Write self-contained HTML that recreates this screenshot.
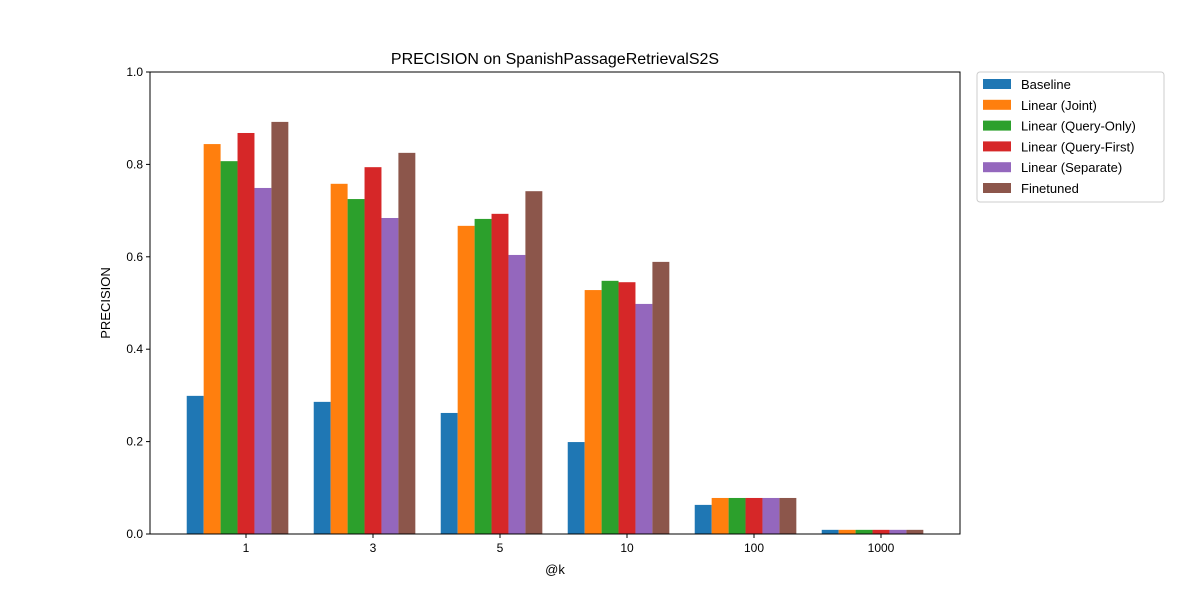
<!DOCTYPE html>
<html><head><meta charset="utf-8"><style>body{margin:0;background:#fff}svg{font-family:"Liberation Sans","DejaVu Sans",sans-serif}</style></head>
<body>
<svg id="chart" width="1200" height="600"></svg>
<script>
const categories=["1","3","5","10","100","1000"];
const seriesNames=["Baseline","Linear (Joint)","Linear (Query-Only)","Linear (Query-First)","Linear (Separate)","Finetuned"];
const baseline=[0.299,0.286,0.262,0.199,0.063,0.009];
const joint=[0.844,0.758,0.667,0.528,0.078,0.009];
const queryOnly=[0.807,0.725,0.682,0.548,0.078,0.009];
const queryFirst=[0.868,0.794,0.693,0.545,0.078,0.009];
const separate=[0.749,0.684,0.604,0.498,0.078,0.009];
const finetuned=[0.892,0.825,0.742,0.589,0.078,0.009];
const yTicks=[0,0.2,0.4,0.6,0.8,1.0];
const series=[baseline,joint,queryOnly,queryFirst,separate,finetuned];
const colors=["#1f77b4","#ff7f0e","#2ca02c","#d62728","#9467bd","#8c564b"];
const NS="http://www.w3.org/2000/svg";
const svg=document.getElementById('chart');
const L=150,R=960,T=72,B=534;
const y=v=>B-v*(B-T);
const step=127, x0=246;
const xc=i=>x0+i*step;
const bw=step*0.8/6;
function mk(t,a,p){const e=document.createElementNS(NS,t);for(const k in a)e.setAttribute(k,a[k]);(p||svg).appendChild(e);return e;}
series.forEach((s,si)=>{s.forEach((v,ci)=>{
 const r=mk('rect',{x:xc(ci)-3.5*bw+si*bw,y:y(v),width:bw,height:B-y(v),fill:colors[si]});
 
 
});});
const frame=mk('rect',{x:L,y:T,width:R-L,height:B-T,fill:'none',stroke:'#000','stroke-width':1});


yTicks.forEach(v=>{
 mk('line',{x1:L-4,x2:L,y1:y(v),y2:y(v),stroke:'#000'});
 const t=mk('text',{x:L-7,y:y(v)+4,'text-anchor':'end','font-size':12});t.textContent=v.toFixed(1);
 
 
});
categories.forEach((c,i)=>{
 mk('line',{x1:xc(i),x2:xc(i),y1:B,y2:B+4,stroke:'#000'});
 const t=mk('text',{x:xc(i),y:B+18,'text-anchor':'middle','font-size':12});t.textContent=c;
 
 
});
let t=mk('text',{x:555,y:64,'text-anchor':'middle','font-size':16});t.textContent="PRECISION on SpanishPassageRetrievalS2S";


t=mk('text',{x:555,y:574,'text-anchor':'middle','font-size':13});t.textContent="@k";


t=mk('text',{x:110,y:303,'text-anchor':'middle','font-size':13,transform:'rotate(-90 110 303)'});t.textContent="PRECISION";


const lg=mk('g',{});


mk('rect',{x:977,y:72,width:187,height:130,rx:3,fill:'#fff',stroke:'#ccc'},lg);
seriesNames.forEach((n,i)=>{
 const g=mk('g',{},lg);
 
 
 mk('rect',{x:983,y:79+i*20.8,width:28,height:10,fill:colors[i]},g);
 const tx=mk('text',{x:1021,y:89+i*20.8,'font-size':13},g);tx.textContent=n;
});
</script>
</body></html>
